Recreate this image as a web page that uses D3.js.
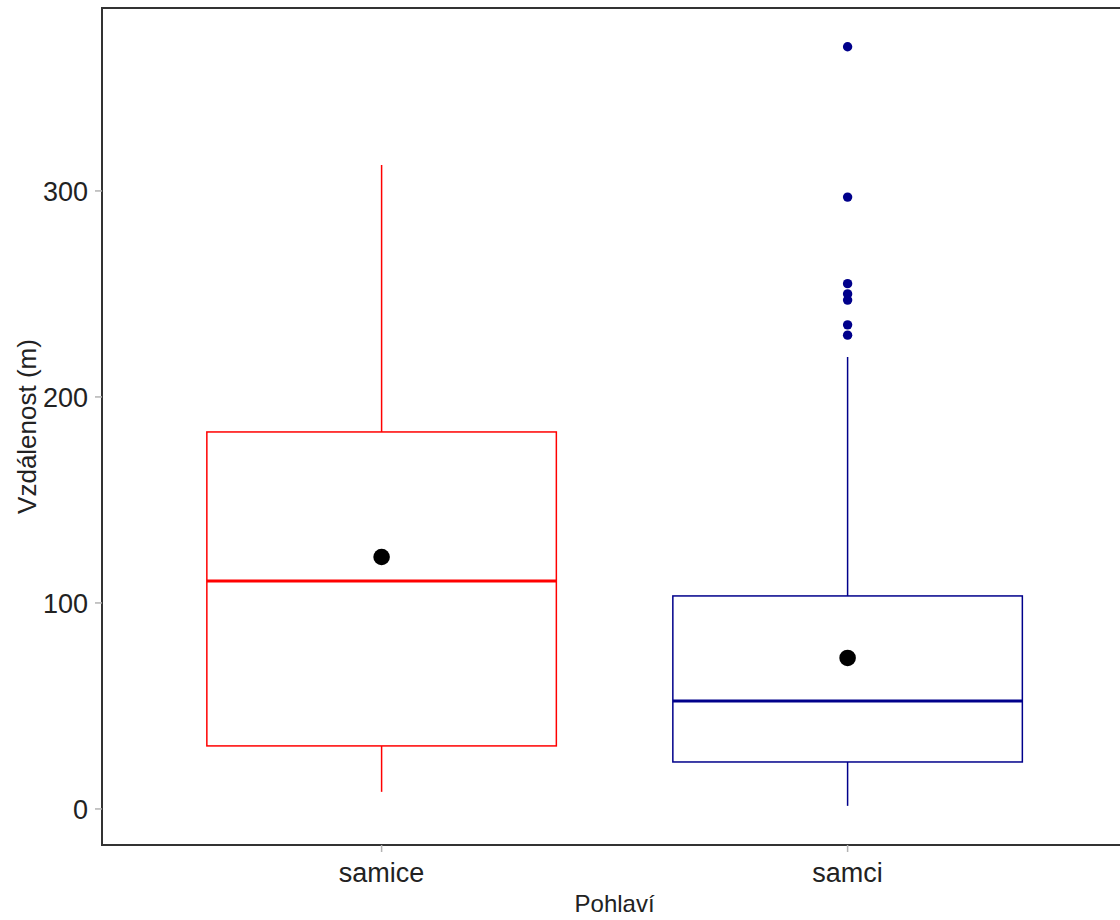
<!DOCTYPE html>
<html>
<head>
<meta charset="utf-8">
<script src="https://cdn.jsdelivr.net/npm/d3@7"></script>
<style>
  body { margin: 0; background: #fff; }
  text { font-family: "Liberation Sans", Arial, sans-serif; }
</style>
</head>
<body>
<script>
var width = 1120, height = 920;

// data
var groups = ["samice", "samci"];
var colors = ["#ff0000", "#00008b"];
var whiskerLow = [8.3, 1.5];
var q1 = [30.6, 22.8];
var median = [110.7, 52.4];
var q3 = [183, 103.4];
var whiskerHigh = [312.6, 219.4];
var means = [122.3, 73.3];
var outliersSamci = [370, 297, 255, 250, 247, 235, 230];
var yTicks = [0, 100, 200, 300];

var margin = {left: 102, top: 8, bottom: 845};

var svg = d3.select("body").append("svg")
    .attr("width", width).attr("height", height);

// discrete scale, 0.6 unit expansion each side like ggplot
var x = d3.scaleLinear().domain([0.4, 2.6]).range([margin.left, margin.left + 2.2 * 466]);
var y = d3.scaleLinear().domain([-17.5, 388.8]).range([margin.bottom, margin.top]);
var boxW = x(1.375) - x(1);

var data = groups.map(function(g, i) {
  return {name: g, i: i + 1, color: colors[i], lo: whiskerLow[i], q1: q1[i],
    med: median[i], q3: q3[i], hi: whiskerHigh[i], mean: means[i],
    out: i == 1 ? outliersSamci : []};
});

var g = svg.selectAll("g.box").data(data).enter().append("g").attr("class", "box");

// whiskers
g.append("line")
    .attr("x1", function(d){ return x(d.i); }).attr("x2", function(d){ return x(d.i); })
    .attr("y1", function(d){ return y(d.q3); }).attr("y2", function(d){ return y(d.hi); })
    .attr("stroke", function(d){ return d.color; }).attr("stroke-width", 1.5);
g.append("line")
    .attr("x1", function(d){ return x(d.i); }).attr("x2", function(d){ return x(d.i); })
    .attr("y1", function(d){ return y(d.q1); }).attr("y2", function(d){ return y(d.lo); })
    .attr("stroke", function(d){ return d.color; }).attr("stroke-width", 1.5);

// box
g.append("rect")
    .attr("x", function(d){ return x(d.i) - boxW; })
    .attr("width", 2 * boxW)
    .attr("y", function(d){ return y(d.q3); })
    .attr("height", function(d){ return y(d.q1) - y(d.q3); })
    .attr("fill", "white")
    .attr("stroke", function(d){ return d.color; }).attr("stroke-width", 1.5);

// median
g.append("line")
    .attr("x1", function(d){ return x(d.i) - boxW; }).attr("x2", function(d){ return x(d.i) + boxW; })
    .attr("y1", function(d){ return y(d.med); }).attr("y2", function(d){ return y(d.med); })
    .attr("stroke", function(d){ return d.color; }).attr("stroke-width", 3);

// outliers
g.selectAll("circle.out").data(function(d){ return d.out.map(function(v){ return {v: v, d: d}; }); })
  .enter().append("circle")
    .attr("cx", function(o){ return x(o.d.i); })
    .attr("cy", function(o){ return y(o.v); })
    .attr("r", 4.7)
    .attr("fill", function(o){ return o.d.color; });

// means
g.append("circle")
    .attr("cx", function(d){ return x(d.i); })
    .attr("cy", function(d){ return y(d.mean); })
    .attr("r", 8.3)
    .attr("fill", "black");

// panel lines (classic theme: left + bottom, plus top)
svg.append("line").attr("x1", margin.left).attr("x2", width).attr("y1", margin.top).attr("y2", margin.top)
    .attr("stroke", "#333").attr("stroke-width", 2);
svg.append("line").attr("x1", margin.left).attr("x2", margin.left).attr("y1", margin.top - 1).attr("y2", margin.bottom + 1)
    .attr("stroke", "#333").attr("stroke-width", 2);
svg.append("line").attr("x1", margin.left).attr("x2", width).attr("y1", margin.bottom).attr("y2", margin.bottom)
    .attr("stroke", "#333").attr("stroke-width", 2);

// y axis ticks
var yt = svg.selectAll("g.yt").data(yTicks).enter().append("g").attr("class", "yt");
yt.append("line")
    .attr("x1", margin.left - 7).attr("x2", margin.left)
    .attr("y1", function(d){ return y(d); }).attr("y2", function(d){ return y(d); })
    .attr("stroke", "#b3b3b3").attr("stroke-width", 1.5);
yt.append("text")
    .attr("x", margin.left - 14).attr("y", function(d){ return y(d); })
    .attr("dy", "0.36em").attr("text-anchor", "end")
    .attr("font-size", 27).attr("fill", "#222")
    .text(function(d){ return d; });

// x axis ticks
var xt = svg.selectAll("g.xt").data(data).enter().append("g").attr("class", "xt");
xt.append("line")
    .attr("x1", function(d){ return x(d.i); }).attr("x2", function(d){ return x(d.i); })
    .attr("y1", margin.bottom).attr("y2", margin.bottom + 7)
    .attr("stroke", "#b3b3b3").attr("stroke-width", 1.5);
xt.append("text")
    .attr("x", function(d){ return x(d.i); }).attr("y", 882)
    .attr("text-anchor", "middle")
    .attr("font-size", 27).attr("fill", "#222")
    .text(function(d){ return d.name; });

// axis titles
svg.append("text")
    .attr("x", x(1.5)).attr("y", 912)
    .attr("text-anchor", "middle").attr("font-size", 24).attr("fill", "#222")
    .text("Pohlaví");
svg.append("text")
    .attr("transform", "translate(36," + ((margin.top + margin.bottom) / 2) + ") rotate(-90)")
    .attr("text-anchor", "middle").attr("font-size", 26).attr("fill", "#222")
    .text("Vzdálenost (m)");
</script>
</body>
</html>
